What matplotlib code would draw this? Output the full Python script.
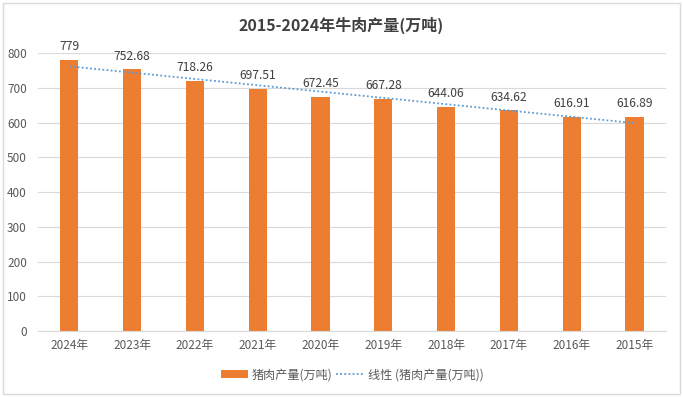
import numpy as np
import matplotlib
matplotlib.use('Agg')
import matplotlib.pyplot as plt
from matplotlib.patches import Rectangle

plt.rcParams['font.family'] = ['Noto Sans CJK SC', 'DejaVu Sans']

# 数据
years = ['2024年', '2023年', '2022年', '2021年', '2020年',
         '2019年', '2018年', '2017年', '2016年', '2015年']
output = [779, 752.68, 718.26, 697.51, 672.45, 667.28, 644.06, 634.62, 616.91, 616.89]
value_labels = ['779', '752.68', '718.26', '697.51', '672.45',
                '667.28', '644.06', '634.62', '616.91', '616.89']
y_ticks = [0, 100, 200, 300, 400, 500, 600, 700, 800]

bar_color = '#ED7D31'
trend_color = '#5B9BD5'

fig = plt.figure(figsize=(6.83, 3.97), dpi=100)
ax = fig.add_axes([0.0556, 0.166, 0.9195, 0.7005])

x = np.arange(len(years))
bars = ax.bar(x, output, width=0.29, color=bar_color, label='猪肉产量(万吨)', zorder=2)

# 线性趋势线
k, b = np.polyfit(x, output, 1)
trend, = ax.plot(x, k * x + b, linestyle=(0, (1, 1.3)), color=trend_color, linewidth=1.3,
                 label='线性 (猪肉产量(万吨))', zorder=3)

for xi, v, s in zip(x, output, value_labels):
    ax.annotate(s, (xi, v), xytext=(0, 5), textcoords='offset points',
                ha='center', va='bottom', fontsize=8.7, color='#404040')

ax.set_xlim(-0.5, len(years) - 0.5)
ax.set_ylim(0, 800)
ax.set_yticks(y_ticks)
ax.set_xticks(x)
ax.set_xticklabels(years)
ax.tick_params(axis='both', length=0, labelsize=8.5, colors='#595959')
ax.tick_params(axis='x', pad=6)
ax.tick_params(axis='y', pad=8)
ax.grid(axis='y', color='#D9D9D9', linewidth=0.8, zorder=0)
for side in ['top', 'right', 'left']:
    ax.spines[side].set_visible(False)
ax.spines['bottom'].set_color('#D9D9D9')

fig.text(0.5, 0.937, '2015-2024年牛肉产量(万吨)', ha='center', va='center',
         fontsize=11.5, fontweight='bold', color='#404040')

ax.legend(handles=[bars, trend], loc='center', bbox_to_anchor=(0.5, -0.158), ncol=2,
          frameon=False, fontsize=8.7, labelcolor='#595959', handlelength=2.3,
          handleheight=0.6, columnspacing=0.3, handletextpad=0.3)

fig.patches.append(Rectangle((0.004, 0.008), 0.992, 0.984, transform=fig.transFigure,
                             fill=False, edgecolor='#D9D9D9', linewidth=1))

fig.savefig('out.png', dpi=100)
